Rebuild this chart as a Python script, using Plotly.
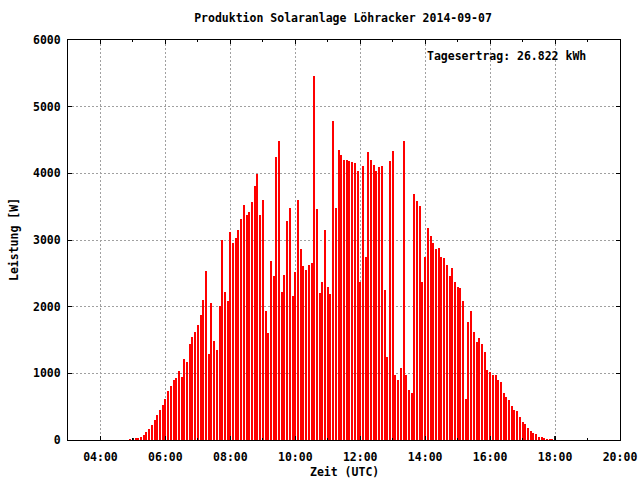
import plotly.graph_objects as go

day = "2014-09-07"
times = [
    "04:55",
    "05:00", "05:05", "05:10", "05:15", "05:20", "05:25", "05:30", "05:35", "05:40", "05:45", "05:50", "05:55",
    "06:00", "06:05", "06:10", "06:15", "06:20", "06:25", "06:30", "06:35", "06:40", "06:45", "06:50", "06:55",
    "07:00", "07:05", "07:10", "07:15", "07:20", "07:25", "07:30", "07:35", "07:40", "07:45", "07:50", "07:55",
    "08:00", "08:05", "08:10", "08:15", "08:20", "08:25", "08:30", "08:35", "08:40", "08:45", "08:50", "08:55",
    "09:00", "09:05", "09:10", "09:15", "09:20", "09:25", "09:30", "09:35", "09:40", "09:45", "09:50", "09:55",
    "10:00", "10:05", "10:10", "10:15", "10:20", "10:25", "10:30", "10:35", "10:40", "10:45", "10:50", "10:55",
    "11:00", "11:05", "11:10", "11:15", "11:20", "11:25", "11:30", "11:35", "11:40", "11:45", "11:50", "11:55",
    "12:00", "12:05", "12:10", "12:15", "12:20", "12:25", "12:30", "12:35", "12:40", "12:45", "12:50", "12:55",
    "13:00", "13:05", "13:10", "13:15", "13:20", "13:25", "13:30", "13:35", "13:40", "13:45", "13:50", "13:55",
    "14:00", "14:05", "14:10", "14:15", "14:20", "14:25", "14:30", "14:35", "14:40", "14:45", "14:50", "14:55",
    "15:00", "15:05", "15:10", "15:15", "15:20", "15:25", "15:30", "15:35", "15:40", "15:45", "15:50", "15:55",
    "16:00", "16:05", "16:10", "16:15", "16:20", "16:25", "16:30", "16:35", "16:40", "16:45", "16:50", "16:55",
    "17:00", "17:05", "17:10", "17:15", "17:20", "17:25", "17:30", "17:35", "17:40", "17:45", "17:50", "17:55",
    "18:00",
]
power_w = [
    15,
    25, 25, 25, 45, 75, 120, 165, 225, 300, 375, 450, 525,
    615, 735, 810, 900, 930, 1030, 945, 1215, 1170, 1440, 1545, 1620,
    1725, 1875, 2100, 2535, 1290, 2055, 1485, 1350, 2010, 3000, 2220, 2085,
    3120, 2955, 3030, 3150, 3315, 3525, 3375, 3420, 3570, 3810, 3990, 3375,
    3600, 1935, 1605, 2685, 2460, 4245, 4485, 2220, 2475, 3285, 3480, 2160,
    2520, 3600, 2865, 2610, 2550, 2625, 2655, 5460, 3465, 2205, 2370, 3150,
    2295, 2190, 4785, 3480, 4350, 4275, 4200, 4200, 4185, 4170, 4155, 4035,
    2370, 4110, 2745, 4320, 4200, 4125, 4035, 4095, 4110, 2250, 1245, 4185,
    4335, 975, 900, 1080, 4485, 975, 750, 705, 3690, 3585, 3510, 2370,
    2745, 3180, 3060, 2955, 2865, 2880, 2745, 2730, 2625, 2460, 2580, 2370,
    2295, 2280, 2085, 615, 1770, 1935, 1620, 1470, 1530, 1440, 1320, 1050,
    1020, 975, 975, 900, 870, 705, 645, 600, 510, 450, 435, 345,
    270, 240, 180, 135, 105, 90, 45, 45, 30, 15, 15, 15,
    60,
]
x_tick_labels = ["04:00", "06:00", "08:00", "10:00", "12:00", "14:00", "16:00", "18:00", "20:00"]
y_ticks = [0, 1000, 2000, 3000, 4000, 5000, 6000]

title = "Produktion Solaranlage Löhracker 2014-09-07"
yield_text = "Tagesertrag: 26.822 kWh"

xs = [f"{day} {t}" for t in times]
dark_times = {"05:00", "18:00"}
colors = ["#202020" if t in dark_times else "#ff0000" for t in times]

FONT = "DejaVu Sans Mono"
W, H = 640, 480

fig = go.Figure()
fig.add_trace(go.Bar(
    x=xs, y=power_w, width=112000,
    marker=dict(color=colors, line=dict(width=0), opacity=0.999),
    hoverinfo="x+y",
))

fig.update_layout(
    width=W, height=H,
    margin=dict(l=68, r=20, t=40, b=40),
    plot_bgcolor="white", paper_bgcolor="white",
    font=dict(family=FONT, size=11.5, color="black", weight="bold"),
    showlegend=False,
    bargap=0,
    title=dict(text=title, x=343 / W, xanchor="center", y=1 - 18 / H, yanchor="middle",
               font=dict(family=FONT, size=11.5, color="black", weight="bold")),
    annotations=[
        dict(text=yield_text, xref="paper", yref="paper", x=(588 - 68) / 552, y=(440 - 56) / 400,
             xanchor="right", yanchor="middle", showarrow=False),
        dict(text="Zeit (UTC)", xref="paper", yref="paper", x=0.5, y=(440 - 472) / 400,
             xanchor="center", yanchor="middle", showarrow=False),
        dict(text="Leistung [W]", xref="paper", yref="paper", x=(14 - 68) / 552, y=0.5,
             xanchor="center", yanchor="middle", textangle=-90, showarrow=False),
    ],
)

fig.update_xaxes(
    type="date",
    range=[f"{day} 03:00", f"{day} 20:00"],
    tickmode="array",
    tickvals=[f"{day} {t}" for t in x_tick_labels],
    ticktext=x_tick_labels,
    ticks="inside", ticklen=4, tickcolor="black",
    showline=True, linecolor="black", linewidth=1, mirror="ticks",
    showgrid=True, gridcolor="#a0a0a0", gridwidth=1, griddash="2px,2px",
    minor=dict(dtick=3600000, ticks="inside", ticklen=2, tickcolor="black", showgrid=False),
    zeroline=False,
    ticklabelstandoff=6,
    automargin=False,
)
fig.update_yaxes(
    range=[0, 6000],
    tickmode="array", tickvals=y_ticks, ticktext=[str(v) for v in y_ticks],
    ticks="inside", ticklen=4, tickcolor="black",
    showline=True, linecolor="black", linewidth=1, mirror="ticks",
    showgrid=True, gridcolor="#a0a0a0", gridwidth=1, griddash="2px,2px",
    zeroline=False,
    ticklabelstandoff=4,
    automargin=False,
)

# Remove the default 8px page margin so the 640x480 figure fills the window exactly.
fig.write_html("out.html", config={"displayModeBar": False},
               post_script="document.body.style.margin='0';")
